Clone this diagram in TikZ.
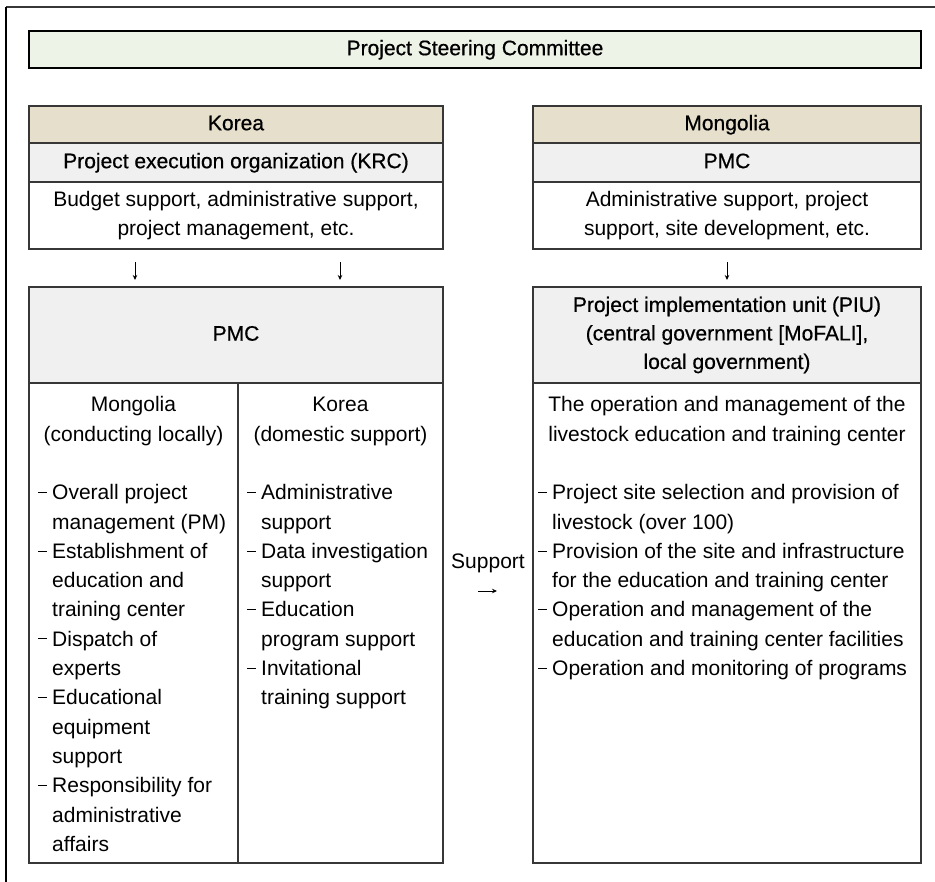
\documentclass[tikz,border=0pt]{standalone}
\usepackage{fontspec}
\setmainfont{Liberation Sans}
\newfontfamily\hdrfont[FakeBold=0.6]{Liberation Sans}
\usetikzlibrary{arrows.meta}

\definecolor{psgreen}{RGB}{237,243,230}
\definecolor{pstan}{RGB}{229,223,203}
\definecolor{psgray}{RGB}{240,240,240}
\definecolor{psline}{RGB}{55,55,55}

% короткий тире в списках
\newcommand{\dsh}{\raisebox{7pt}{\rule{8.5pt}{0.8pt}}\kern5.5pt}

\tikzset{
    cell/.style={draw=psline, line width=1.2pt, inner sep=0pt, fill=white, align=center},
    hdr/.style={cell, font=\hdrfont\fontsize{21}{28.5}\selectfont},
    txt/.style={inner sep=0pt, anchor=north},
    lst/.style={inner sep=0pt, anchor=north west},
    darr/.style={-{Stealth[length=5pt,width=4.5pt]}, line width=0.9pt}
}

\begin{document}
\begin{tikzpicture}[x=1pt, y=-1pt, font=\fontsize{21}{29.3}\selectfont]
            \useasboundingbox ( 0, 0 ) rectangle ( 935, 882 );

            % рамка
            \draw [line width=2.5pt, psline] ( 6, 7 ) -- ( 935, 7 );
            \draw [line width=1.2pt] ( 6, 7 ) -- ( 6, 882 );

            % комитет
            \node [hdr, draw=black, fill=psgreen, minimum width=892pt, minimum height=37pt] (psc) at ( 475, 49.5 ) {\strut Project Steering Committee};

            % левая колонка
            \node [hdr, fill=pstan, minimum width=414pt, minimum height=37pt] (kor) at ( 236, 124.5 ) {\strut Korea};
            \node [hdr, fill=psgray, minimum width=414pt, minimum height=39pt] (krc) at ( 236, 162.5 ) {\strut Project execution organization (KRC)};
            \node [cell, minimum width=414pt, minimum height=67pt] (kbud) at ( 236, 215.5 ) {Budget support, administrative support,\\project management, etc.};
            \node [hdr, fill=psgray, minimum width=414pt, minimum height=96pt] (kpmc) at ( 236, 335 ) {\strut PMC};
            \node [cell, minimum width=209pt, minimum height=480pt] (kloc) at ( 133.5, 623 ) {};
            \node [cell, minimum width=205pt, minimum height=480pt] (kdom) at ( 340.5, 623 ) {};

            \node [txt] (klochd) at ( 133.5, 391 ) {\begin{tabular}{@{}c@{}}Mongolia\\(conducting locally)\end{tabular}};
            \node [lst] (kloclst) at ( 38, 479 ) {\begin{tabular}{@{}l@{}l@{}}
                \dsh&Overall project\\ &management (PM)\\
                \dsh&Establishment of\\ &education and\\ &training center\\
                \dsh&Dispatch of\\ &experts\\
                \dsh&Educational\\ &equipment\\ &support\\
                \dsh&Responsibility for\\ &administrative\\ &affairs
            \end{tabular}};
            \node [txt] (kdomhd) at ( 340.5, 391 ) {\begin{tabular}{@{}c@{}}Korea\\(domestic support)\end{tabular}};
            \node [lst] (kdomlst) at ( 247, 479 ) {\begin{tabular}{@{}l@{}l@{}}
                \dsh&Administrative\\ &support\\
                \dsh&Data investigation\\ &support\\
                \dsh&Education\\ &program support\\
                \dsh&Invitational\\ &training support
            \end{tabular}};

            % правая колонка
            \node [hdr, fill=pstan, minimum width=388pt, minimum height=37pt] (mng) at ( 727, 124.5 ) {\strut Mongolia};
            \node [hdr, fill=psgray, minimum width=388pt, minimum height=39pt] (mpmc) at ( 727, 162.5 ) {\strut PMC};
            \node [cell, minimum width=388pt, minimum height=67pt] (madm) at ( 727, 215.5 ) {Administrative support, project\\support, site development, etc.};
            \node [hdr, fill=psgray, minimum width=388pt, minimum height=96pt] (piu) at ( 727, 335 ) {Project implementation unit (PIU)\\(central government [MoFALI],\\local government)};
            \node [cell, minimum width=388pt, minimum height=480pt] (mops) at ( 727, 623 ) {};

            \node [txt] (mopshd) at ( 727, 391 ) {\begin{tabular}{@{}c@{}}The operation and management of the\\livestock education and training center\end{tabular}};
            \node [lst] (mopslst) at ( 538, 479 ) {\begin{tabular}{@{}l@{}l@{}}
                \dsh&Project site selection and provision of\\ &livestock (over 100)\\
                \dsh&Provision of the site and infrastructure\\ &for the education and training center\\
                \dsh&Operation and management of the\\ &education and training center facilities\\
                \dsh&Operation and monitoring of programs
            \end{tabular}};

            % стрелки
            \coordinate (a1) at ( 135, 262 );
            \coordinate (b1) at ( 135, 280 );
            \coordinate (a2) at ( 340, 262 );
            \coordinate (b2) at ( 340, 280 );
            \coordinate (a3) at ( 727, 262 );
            \coordinate (b3) at ( 727, 280 );
            \draw [darr] (a1) -- (b1);
            \draw [darr] (a2) -- (b2);
            \draw [darr] (a3) -- (b3);

            % поддержка
            \node [inner sep=0pt] (sup) at ( 488, 563 ) {Support};
            \coordinate (s1) at ( 478, 591 );
            \coordinate (s2) at ( 497, 591 );
            \draw [darr] (s1) -- (s2);
        \end{tikzpicture}
\end{document}
